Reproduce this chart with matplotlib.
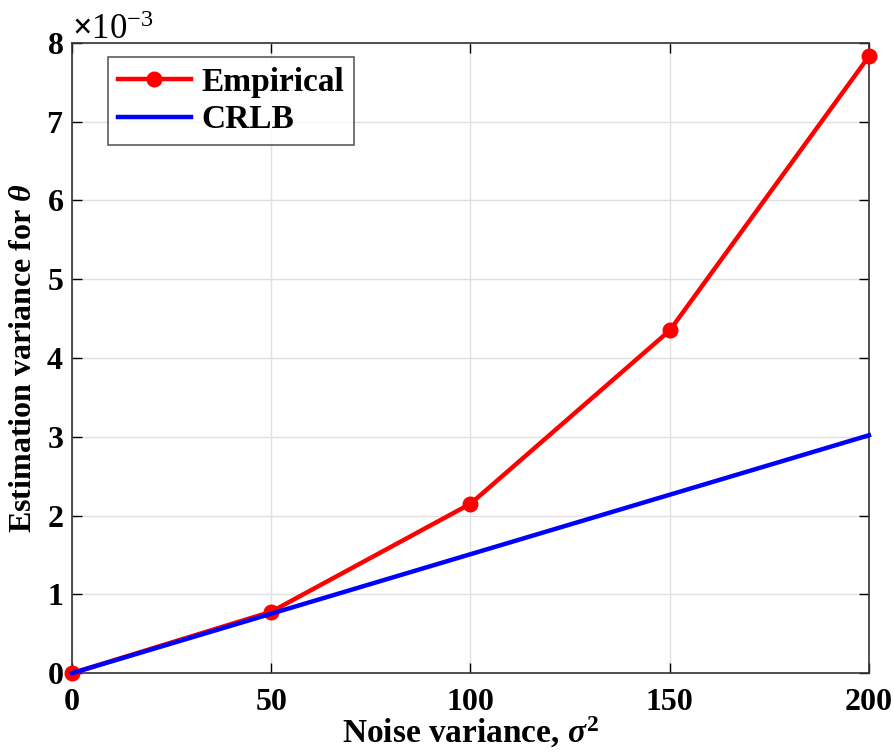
import numpy as np
import matplotlib.pyplot as plt
from matplotlib.ticker import ScalarFormatter

# data
noise_var = [0, 50, 100, 150, 200]
empirical = [0.0, 0.78e-3, 2.15e-3, 4.35e-3, 7.83e-3]
crlb = [0.0, 0.755e-3, 1.51e-3, 2.265e-3, 3.02e-3]

x_ticks = [0, 50, 100, 150, 200]
y_ticks = [0, 1e-3, 2e-3, 3e-3, 4e-3, 5e-3, 6e-3, 7e-3, 8e-3]

plt.rcParams['font.family'] = ['Liberation Serif', 'DejaVu Serif']
plt.rcParams['font.weight'] = 'bold'
plt.rcParams['mathtext.fontset'] = 'custom'
plt.rcParams['mathtext.rm'] = 'Liberation Serif'
plt.rcParams['mathtext.it'] = 'Liberation Serif:italic:bold'
plt.rcParams['mathtext.bf'] = 'Liberation Serif:bold'

fig = plt.figure(figsize=(8.94, 7.53), dpi=100)
ax = fig.add_axes([0.0805, 0.106, 0.8915, 0.837])

ax.plot(noise_var, empirical, color='#ff0000', linewidth=3.2, marker='o',
        markersize=10.5, label='Empirical', zorder=3, clip_on=False)
ax.plot(noise_var, crlb, color='#0000ff', linewidth=3.2, label='CRLB', zorder=4,
        clip_on=False)

ax.set_xlim(0, 200)
ax.set_ylim(0, 8e-3)
ax.set_xticks(x_ticks)
ax.set_yticks(y_ticks)

fmt = ScalarFormatter(useMathText=True)
fmt.set_powerlimits((-3, -3))
ax.yaxis.set_major_formatter(fmt)
ax.yaxis.get_offset_text().set_fontsize(25)
ax.yaxis.get_offset_text().set_fontweight('normal')

ax.tick_params(direction='in', length=7, width=1, labelsize=23,
               top=True, right=True, pad=6)
ax.tick_params(axis='x', pad=11)
for lab in ax.get_xticklabels() + ax.get_yticklabels():
    lab.set_fontweight('bold')

ax.grid(True, color='#e0e0e0', linewidth=1)
ax.set_axisbelow(True)
for s in ax.spines.values():
    s.set_linewidth(1.2)
    s.set_color('#333333')

ax.set_xlabel(r'Noise variance, $\sigma^2$', fontsize=24, fontweight='bold', labelpad=-2)
ax.set_ylabel(r'Estimation variance for $\theta$', fontsize=23, fontweight='bold', labelpad=6)

leg = ax.legend(loc='upper left', fontsize=24, frameon=True, fancybox=False,
                edgecolor='#333333', borderpad=0.3, handlelength=2.2,
                handletextpad=0.3, labelspacing=0.2, borderaxespad=0,
                bbox_to_anchor=(0.045, 0.978))
leg.get_frame().set_linewidth(1.2)
for t in leg.get_texts():
    t.set_fontweight('bold')

fig.savefig('out.png', dpi=100)
